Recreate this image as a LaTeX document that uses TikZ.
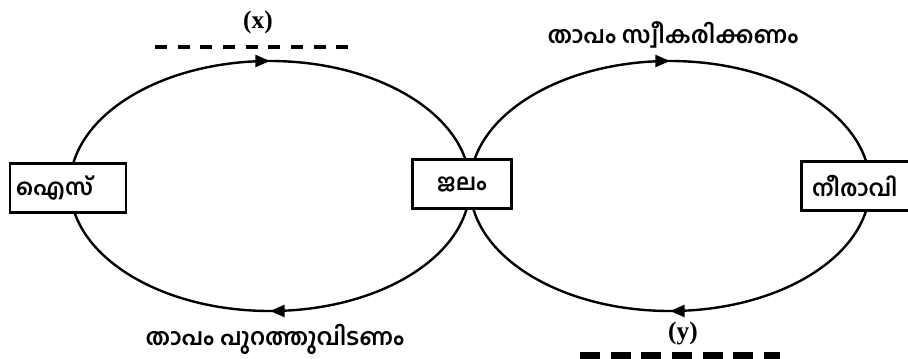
\documentclass[tikz,border=0pt]{standalone}
\usepackage{fontspec}
\setmainfont{Liberation Serif}
\newfontfamily\mlfont[Script=Malayalam]{Hind Kochi}
\usetikzlibrary{arrows.meta,decorations.markings}
\begin{document}
\begin{tikzpicture}[x=0.75pt,y=0.75pt,
  box/.style={draw, line width=1.7pt, fill=white, inner sep=2pt,
    minimum height=49*0.75pt, font=\mlfont\bfseries\fontsize{17}{19}\selectfont},
  loopline/.style={line width=1.8pt, postaction={decorate},
    decoration={markings, mark=at position 0.5 with {\arrow{Triangle[length=11pt,width=9pt]}}}},
  lbl/.style={font=\mlfont\bfseries\fontsize{17.5}{19}\selectfont, inner sep=0pt},
  letterlbl/.style={font=\bfseries\fontsize{19}{21}\selectfont, inner sep=0pt},
  dashline/.style={line width=3.2pt, dash pattern=on 9pt off 8pt}]
\useasboundingbox (0,0) rectangle (908,358);
\coordinate (c1) at (270,172);
\coordinate (c2) at (670,172);
% loops
\draw[loopline] (c1) ++(180:200 and 125) arc[start angle=180, end angle=0, x radius=200, y radius=125];
\draw[loopline] (c1) ++(0:200 and 125) arc[start angle=0, end angle=-180, x radius=200, y radius=125];
\draw[loopline] (c2) ++(180:200 and 125) arc[start angle=180, end angle=0, x radius=200, y radius=125];
\draw[loopline] (c2) ++(0:200 and 125) arc[start angle=0, end angle=-180, x radius=200, y radius=125];
% boxes
\node[box, minimum width=116*0.75pt, text width=104*0.75pt, align=left] (ice) at (68,170) {ഐസ്};
\node[box, minimum width=99*0.75pt] (water) at (462,174) {ജലം};
\node[box, minimum width=113*0.75pt, text width=92*0.75pt, align=left] (steam) at (858,172) {നീരാവി};
% labels
\node[letterlbl] (xl) at (258,336) {(x)};
\coordinate (xa) at (155,311);
\coordinate (xb) at (355,311);
\draw[dashline] (xa) -- (xb);
\node[lbl] (gain) at (673,323) {താപം സ്വീകരിക്കണം};
\node[lbl] (lose) at (275,19) {താപം പുറത്തുവിടണം};
\node[letterlbl] (yl) at (683,25) {(y)};
\coordinate (ya) at (580,2);
\coordinate (yb) at (780,2);
\draw[line width=6pt, dash pattern=on 15pt off 8pt] (ya) -- (yb);
\end{tikzpicture}
\end{document}
